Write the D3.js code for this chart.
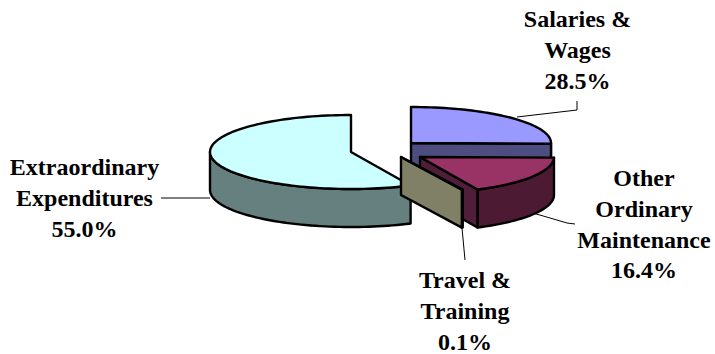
<!DOCTYPE html>
<html><head><meta charset="utf-8">
<style>html,body{margin:0;padding:0;background:#fff}svg{display:block}text{font-family:"Liberation Serif",serif;font-weight:bold;font-size:24px;fill:#000;text-anchor:middle}</style>
<script src="https://cdn.jsdelivr.net/npm/d3@7"></script></head><body><script>
const categories=["Salaries & Wages","Other Ordinary Maintenance","Travel & Training","Extraordinary Expenditures"];
const shares=[28.5,16.4,0.1,55.0];
const topColors=["#9999ff","#993366","#ffffcc","#ccffff"];
const sideColors=["#4d4d80","#4d1a33","#808066","#668080"];
const faceColors=["#4d4d80","#4f1f3a","#808066","#668080"];
const sliceCenters=[[411,143],[420,157],[401,157],[351,152]];
const sliceRadii=[[140,36],[134,36],[144,36],[141,37]];
const labelLines=[["Salaries &","Wages","28.5%"],["Other","Ordinary","Maintenance","16.4%"],["Travel &","Training","0.1%"],["Extraordinary","Expenditures","55.0%"]];
const labelPos=[[577.5,27],[644,186],[465,288],[84.5,175]];
const leaders=[[[517,117],[577,110],[577,101]],[[533,213],[567,223],[575,224]],[[462,228],[465,260]],[[161,198],[210,198]]];
const depth=38, W=715, H=354, lineGap=30.8;
const svg=d3.select("body").append("svg").attr("width",W).attr("height",H);
const deg=Math.PI/180;
// perspective warp of true pie angle into the drawn angle
const warp=d3.scaleLinear().domain([0,102.6,162,360]).range([0,91,155,360]);
const arcs=d3.pie().value(d=>d).sort(null)(shares);
const line=d3.line();
function pt(i,phi,dz=0){const [cx,cy]=sliceCenters[i],[rx,ry]=sliceRadii[i];
  return [cx+rx*Math.sin(phi*deg),cy-ry*Math.cos(phi*deg)+dz];}
function arcPts(i,a,b,dz=0){const n=Math.max(2,Math.ceil(Math.abs(b-a)/2));
  return d3.range(n+1).map(k=>pt(i,a+(b-a)*k/n,dz));}
function shape(pts,fill,sw=2.4){svg.append("path").attr("d",line(pts)+"Z").attr("fill",fill).attr("stroke","#000").attr("stroke-width",sw).attr("stroke-linejoin","round");}
const leaderG=svg.append("g");
leaders.forEach(l=>leaderG.append("path").attr("d",line(l)).attr("fill","none").attr("stroke","#000").attr("stroke-width",1));
[3,0,1,2].forEach(i=>{
  const a=warp(arcs[i].startAngle/deg), b=warp(arcs[i].endAngle/deg);
  const c=sliceCenters[i];
  const apexB=[c[0],c[1]+depth];
  // outer wall: front half of ellipse only
  const w0=Math.max(a,90), w1=Math.min(b,270);
  if(w1>w0){shape([...arcPts(i,w0,w1),...arcPts(i,w1,w0,depth)],sideColors[i]);}
  // cut faces turned towards the viewer
  if(Math.sin(a*deg)<-1e-6){const p=pt(i,a);shape([c,p,[p[0],p[1]+depth],apexB],faceColors[i]);}
  if(Math.sin(b*deg)>1e-6){const p=pt(i,b);shape([c,p,[p[0],p[1]+depth],apexB],faceColors[i]);}
  shape([c,...arcPts(i,a,b)],topColors[i]);
});
labelLines.forEach((ls,i)=>{
  const t=svg.append("text").attr("x",labelPos[i][0]).attr("y",labelPos[i][1]);
  ls.forEach((s,k)=>t.append("tspan").attr("x",labelPos[i][0]).attr("y",labelPos[i][1]+k*lineGap).text(s));
});
</script></body></html>
